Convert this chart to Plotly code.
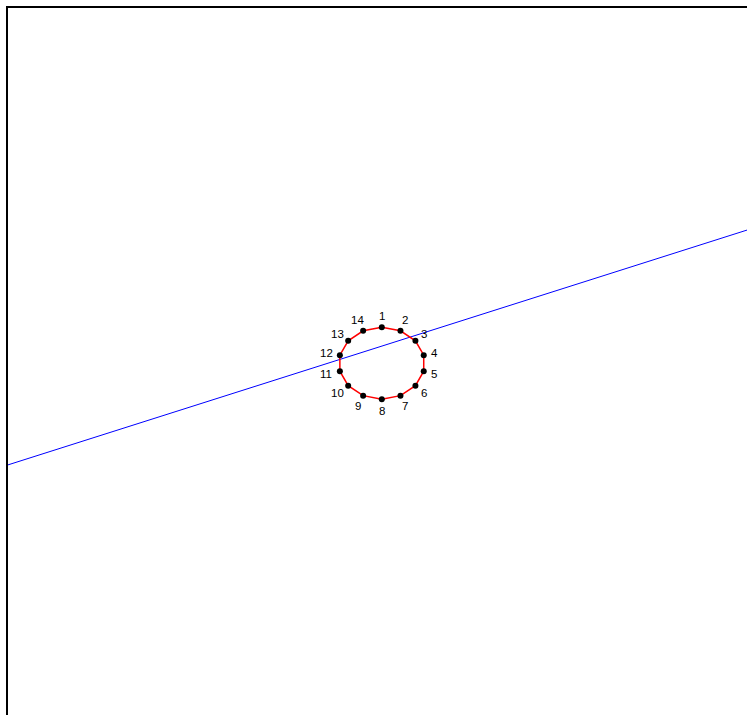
import math
import plotly.graph_objects as go

# 14 points around the (unit) circle, numbered clockwise from the top
point_labels = ["1", "2", "3", "4", "5", "6", "7", "8", "9", "10", "11", "12", "13", "14"]
point_x = [0.000, 0.434, 0.782, 0.975, 0.975, 0.782, 0.434, 0.000,
           -0.434, -0.782, -0.975, -0.975, -0.782, -0.434]
point_y = [1.000, 0.901, 0.623, 0.223, -0.223, -0.623, -0.901, -1.000,
           -0.901, -0.623, -0.223, 0.223, 0.623, 0.901]

# straight (blue) line across the panel
line_x = [-10.0, 10.0]
line_y = [-3.32, 4.27]

fig = go.Figure()

fig.add_trace(go.Scatter(
    x=line_x, y=line_y, mode="lines",
    line=dict(color="#0000ff", width=1), hoverinfo="skip", showlegend=False,
))

fig.add_trace(go.Scatter(
    x=point_x + point_x[:1], y=point_y + point_y[:1], mode="lines",
    line=dict(color="#ff0000", width=1.5), hoverinfo="skip", showlegend=False,
))

fig.add_trace(go.Scatter(
    x=point_x, y=point_y, mode="markers",
    marker=dict(color="#000000", size=6), showlegend=False,
))

for lab, px, py in zip(point_labels, point_x, point_y):
    ang = math.atan2(py, px)
    extra = 3.0 * (len(lab) - 1)
    fig.add_annotation(
        x=px, y=py, text=lab, showarrow=False,
        xshift=(11 + extra) * math.cos(ang), yshift=11.5 * math.sin(ang),
        font=dict(family="Liberation Sans, Arial, sans-serif", size=11.5, color="#000000"),
    )

fig.update_layout(
    width=747, height=715,
    margin=dict(l=8, r=0, t=8, b=0),
    plot_bgcolor="white", paper_bgcolor="white",
    xaxis=dict(range=[-8.693, 8.493], showgrid=False, zeroline=False,
               showticklabels=False, ticks="", side="top",
               showline=True, linecolor="#000000", linewidth=1.5),
    yaxis=dict(range=[-9.772, 9.867], showgrid=False, zeroline=False,
               showticklabels=False, ticks="",
               showline=True, linecolor="#000000", linewidth=1.5),
)

fig.write_html(
    "out.html",
    config={"displayModeBar": False},
    post_script="document.body.style.margin='0';document.body.style.overflow='hidden';",
)
